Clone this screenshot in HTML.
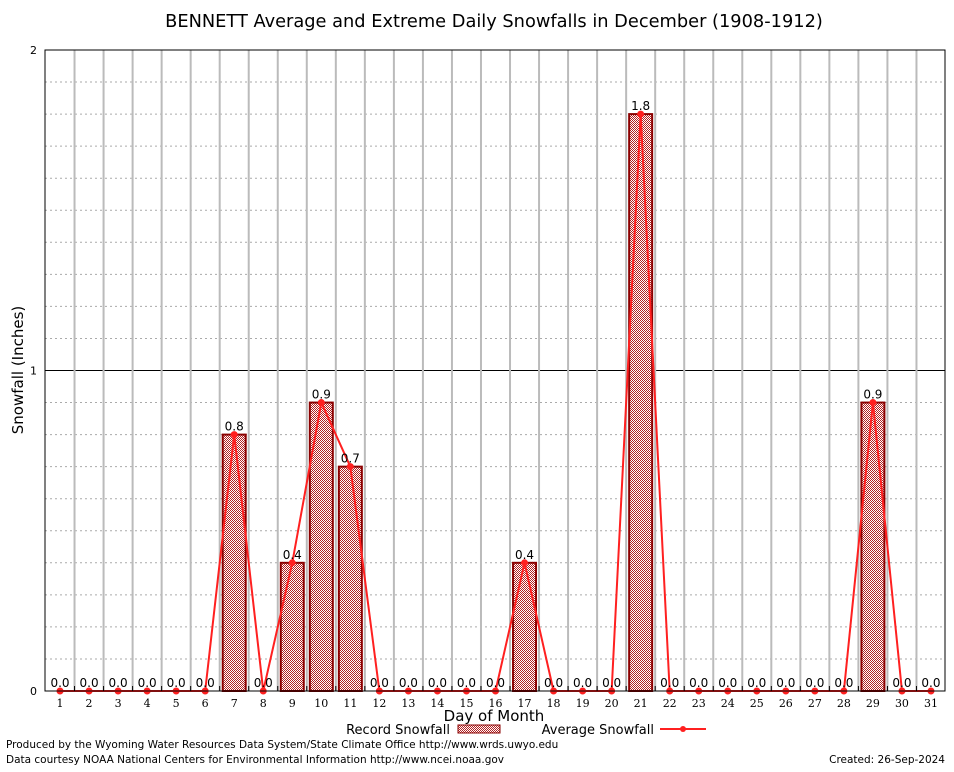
<!DOCTYPE html>
<html><head><meta charset="utf-8"><style>
body{margin:0;background:#fff;width:954px;height:768px;overflow:hidden;font-family:"DejaVu Sans","Liberation Sans",sans-serif}
</style></head><body>
<svg id="chart" width="954" height="768" xmlns="http://www.w3.org/2000/svg" font-family="DejaVu Sans, Liberation Sans, sans-serif">
<defs>
<pattern id="chk" width="2" height="2" patternUnits="userSpaceOnUse">
<rect width="2" height="2" fill="#fff"/><rect width="1" height="1" fill="#b22222"/><rect x="1" y="1" width="1" height="1" fill="#b22222"/>
</pattern>
</defs>
<rect width="954" height="768" fill="#fff"/>
<text x="494" y="27" font-size="17.8" text-anchor="middle">BENNETT Average and Extreme Daily Snowfalls in December (1908-1912)</text>
<g id="grid"></g>
<g id="bars"></g>
<g id="line"></g>
<g id="labels"></g>
<rect x="45" y="50" width="900" height="641" fill="none" stroke="#000" stroke-width="1"/>
<g id="axes" font-size="11"></g>
<text transform="translate(23,370) rotate(-90)" font-size="15" text-anchor="middle">Snowfall (Inches)</text>
<text x="494" y="721" font-size="15" text-anchor="middle">Day of Month</text>
<g font-size="13">
<text x="450" y="734" text-anchor="end">Record Snowfall</text>
<rect x="458" y="725" width="42" height="8" fill="url(#chk)" stroke="#8b0000"/>
<text x="654" y="734" text-anchor="end">Average Snowfall</text>
<line x1="660" y1="729" x2="706" y2="729" stroke="#ff2020" stroke-width="2"/>
<circle cx="683" cy="729" r="3" fill="#ff2020"/>
</g>
<text x="6" y="748" font-size="10.5">Produced by the Wyoming Water Resources Data System/State Climate Office http://www.wrds.uwyo.edu</text>
<text x="6" y="763" font-size="10.5">Data courtesy NOAA National Centers for Environmental Information http://www.ncei.noaa.gov</text>
<text x="945" y="763" font-size="10.5" text-anchor="end">Created: 26-Sep-2024</text>
</svg>
<script>
const days = [1,2,3,4,5,6,7,8,9,10,11,12,13,14,15,16,17,18,19,20,21,22,23,24,25,26,27,28,29,30,31];
const recordSnow = [0,0,0,0,0,0,0.8,0,0.4,0.9,0.7,0,0,0,0,0,0.4,0,0,0,1.8,0,0,0,0,0,0,0,0.9,0,0];
const avgSnow = [0,0,0,0,0,0,0.8,0,0.4,0.9,0.7,0,0,0,0,0,0.4,0,0,0,1.8,0,0,0,0,0,0,0,0.9,0,0];
const yTicks = [0,1,2];
const NS="http://www.w3.org/2000/svg";
const X0=45,X1=945,Y0=691,Y1=50,YMAX=2;
const slot=(X1-X0)/days.length;
const xs=d=>X0+0.5+slot*(d-0.5);
const ys=v=>Y0-(v/YMAX)*(Y0-Y1);
function mk(t,a,p){const e=document.createElementNS(NS,t);for(const k in a)e.setAttribute(k,a[k]);p.appendChild(e);return e;}
const grid=document.getElementById('grid'),bars=document.getElementById('bars'),line=document.getElementById('line'),labels=document.getElementById('labels'),axes=document.getElementById('axes');
for(let i=1;i<20;i++){if(i%10===0)continue;const y=ys(i*0.1);
const g=mk('line',{x1:X0,x2:X1,y1:y,y2:y,stroke:'#aaa','stroke-dasharray':'2,3'},grid);

}
yTicks.forEach(t=>{const y=ys(t);
if(t>0&&t<YMAX){const g=mk('line',{x1:X0,x2:X1,y1:y,y2:y,stroke:'#000'},grid);

}
const tx=mk('text',{x:X0-8,y:y+4,'text-anchor':'end'},axes);tx.textContent=t;

});
for(let i=1;i<days.length;i++){const x=X0+0.5+slot*i;
const g=mk('line',{x1:x,x2:x,y1:Y1,y2:Y0,stroke:'#bbb','stroke-width':2},grid);


const tk=mk('line',{x1:x,x2:x,y1:Y0-5,y2:Y0,stroke:'#000'},axes);

}
days.forEach((d,i)=>{const x=xs(d);
const tx=mk('text',{x:x,y:Y0+16,'text-anchor':'middle','font-family':'DejaVu Serif, Liberation Serif, serif','font-size':11},axes);tx.textContent=d;


const v=recordSnow[i];
if(v>0){const b=mk('rect',{x:x-11.5,y:ys(v),width:23,height:Y0-ys(v),fill:'url(#chk)',stroke:'#8b0000','stroke-width':2},bars);

}
const l=mk('text',{x:x,y:ys(v)-4,'text-anchor':'middle','font-size':12},labels);l.textContent=v.toFixed(1);

});
const pts=avgSnow.map((v,i)=>xs(days[i])+','+ys(v)).join(' ');
const pl=mk('polyline',{points:pts,fill:'none',stroke:'#ff2020','stroke-width':2},line);


avgSnow.forEach((v,i)=>{const c=mk('circle',{cx:xs(days[i]),cy:ys(v),r:3.5,fill:'#ff2020'},line);

});
</script>
</body></html>
